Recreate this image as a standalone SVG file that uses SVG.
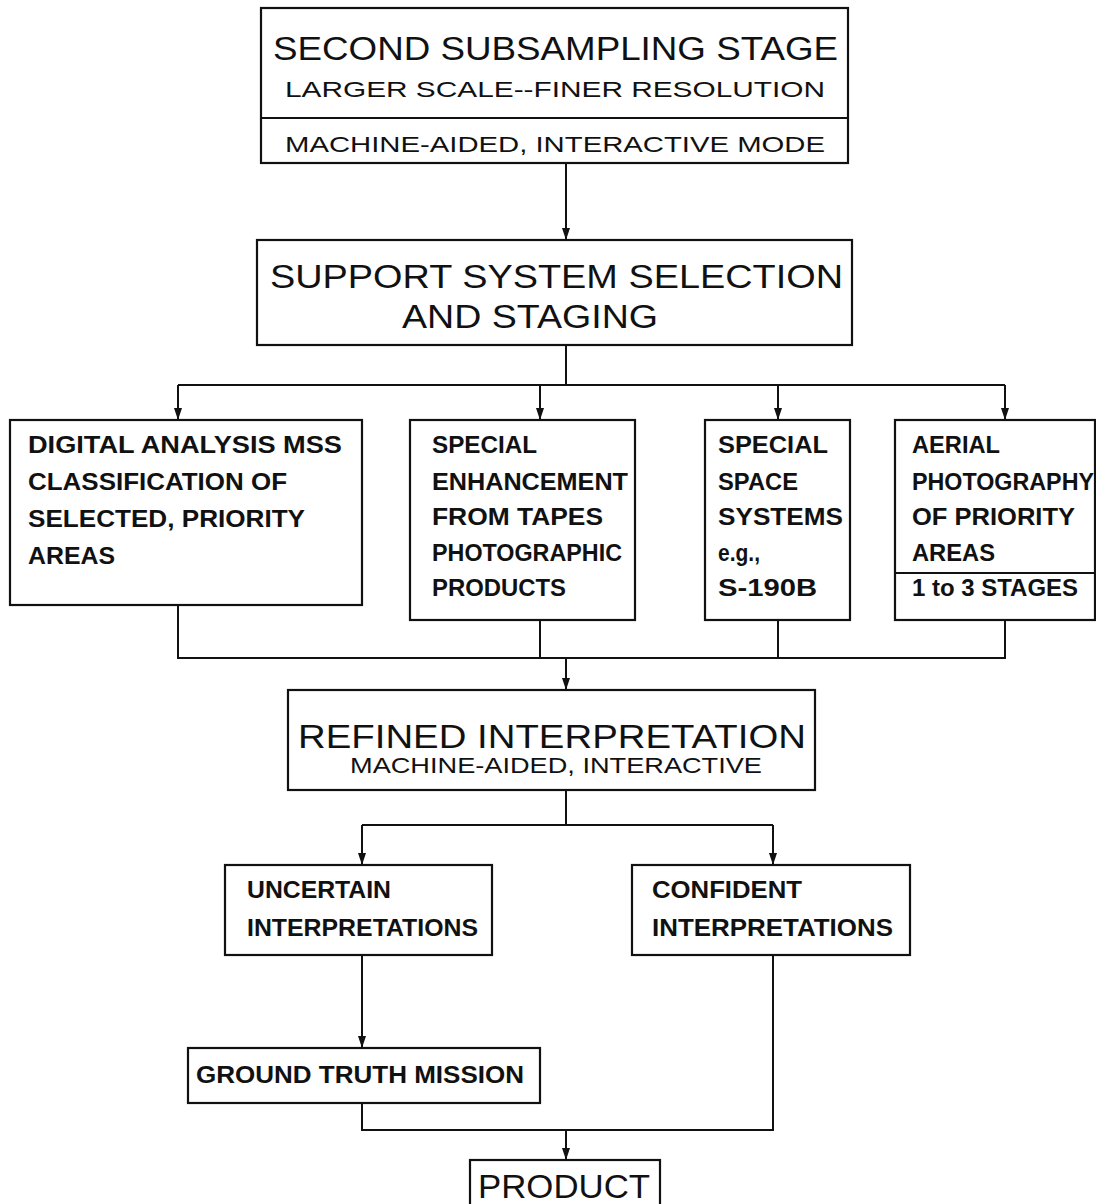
<svg xmlns="http://www.w3.org/2000/svg" width="1096" height="1204" viewBox="0 0 1096 1204">
<style>
.box{fill:#fff;stroke:#111;stroke-width:2.2}
.ln{fill:none;stroke:#111;stroke-width:2}
.t{font-family:"Liberation Sans",Arial,sans-serif;fill:#111;font-size:23px;font-weight:bold}
.h1{font-family:"Liberation Sans",Arial,sans-serif;fill:#111;font-size:34px}
.h2{font-family:"Liberation Sans",Arial,sans-serif;fill:#111;font-size:22px}
</style>
<defs>
<marker id="ar" viewBox="0 0 12 8" refX="12" refY="4" markerWidth="12" markerHeight="8" markerUnits="userSpaceOnUse" orient="auto">
<path d="M0,0 L12,4 L0,8 Z" fill="#111"/>
</marker>
</defs>
<rect width="1096" height="1204" fill="#fff"/>
<g id="connectors">
<path class="ln" d="M566,163 V240" marker-end="url(#ar)"/>
<path class="ln" d="M566,345 V385 M178,385 H1005"/>
<path class="ln" d="M178,385 V420" marker-end="url(#ar)"/>
<path class="ln" d="M540,385 V420" marker-end="url(#ar)"/>
<path class="ln" d="M778,385 V420" marker-end="url(#ar)"/>
<path class="ln" d="M1005,385 V420" marker-end="url(#ar)"/>
<path class="ln" d="M178,605 V658 H1005 V620 M540,620 V658 M778,620 V658"/>
<path class="ln" d="M566,658 V690" marker-end="url(#ar)"/>
<path class="ln" d="M566,790 V825 M362,825 H773"/>
<path class="ln" d="M362,825 V865" marker-end="url(#ar)"/>
<path class="ln" d="M773,825 V865" marker-end="url(#ar)"/>
<path class="ln" d="M362,955 V1048" marker-end="url(#ar)"/>
<path class="ln" d="M362,1103 V1130 H773 V955"/>
<path class="ln" d="M566,1130 V1160" marker-end="url(#ar)"/>
</g>
<g id="n-second">
<rect class="box" x="261" y="8" width="587" height="155"/>
<line class="ln" x1="261" y1="118" x2="848" y2="118"/>
<text class="h1" x="273" y="60" textLength="565" lengthAdjust="spacingAndGlyphs">SECOND SUBSAMPLING STAGE</text>
<text class="h2" x="285" y="97" textLength="540" lengthAdjust="spacingAndGlyphs">LARGER  SCALE--FINER RESOLUTION</text>
<text class="h2" x="285" y="152" textLength="540" lengthAdjust="spacingAndGlyphs">MACHINE-AIDED, INTERACTIVE MODE</text>
</g>
<g id="n-support">
<rect class="box" x="257" y="240" width="595" height="105"/>
<text class="h1" x="270" y="288" font-size="38" textLength="573" lengthAdjust="spacingAndGlyphs">SUPPORT SYSTEM SELECTION</text>
<text class="h1" x="402" y="328" font-size="38" textLength="256" lengthAdjust="spacingAndGlyphs">AND STAGING</text>
</g>
<g id="n-digital">
<rect class="box" x="10" y="420" width="352" height="185"/>
<text class="t" x="28" y="453" textLength="314" lengthAdjust="spacingAndGlyphs">DIGITAL ANALYSIS MSS</text>
<text class="t" x="28" y="490" textLength="259" lengthAdjust="spacingAndGlyphs">CLASSIFICATION OF</text>
<text class="t" x="28" y="527" textLength="277" lengthAdjust="spacingAndGlyphs">SELECTED, PRIORITY</text>
<text class="t" x="28" y="564" textLength="87" lengthAdjust="spacingAndGlyphs">AREAS</text>
</g>
<g id="n-enhance">
<rect class="box" x="410" y="420" width="225" height="200"/>
<text class="t" x="432" y="453" textLength="105" lengthAdjust="spacingAndGlyphs">SPECIAL</text>
<text class="t" x="432" y="490" textLength="196" lengthAdjust="spacingAndGlyphs">ENHANCEMENT</text>
<text class="t" x="432" y="525" textLength="171" lengthAdjust="spacingAndGlyphs">FROM TAPES</text>
<text class="t" x="432" y="561" textLength="190" lengthAdjust="spacingAndGlyphs">PHOTOGRAPHIC</text>
<text class="t" x="432" y="596" textLength="134" lengthAdjust="spacingAndGlyphs">PRODUCTS</text>
</g>
<g id="n-space">
<rect class="box" x="705" y="420" width="145" height="200"/>
<text class="t" x="718" y="453" textLength="110" lengthAdjust="spacingAndGlyphs">SPECIAL</text>
<text class="t" x="718" y="490" textLength="80" lengthAdjust="spacingAndGlyphs">SPACE</text>
<text class="t" x="718" y="525" textLength="125" lengthAdjust="spacingAndGlyphs">SYSTEMS</text>
<text class="t" x="718" y="561" textLength="42" lengthAdjust="spacingAndGlyphs">e.g.,</text>
<text class="t" x="718" y="596" textLength="99" lengthAdjust="spacingAndGlyphs">S-190B</text>
</g>
<g id="n-aerial">
<rect class="box" x="895" y="420" width="200" height="200"/>
<line class="ln" x1="895" y1="573" x2="1095" y2="573"/>
<text class="t" x="912" y="453" textLength="88" lengthAdjust="spacingAndGlyphs">AERIAL</text>
<text class="t" x="912" y="490" textLength="182" lengthAdjust="spacingAndGlyphs">PHOTOGRAPHY</text>
<text class="t" x="912" y="525" textLength="163" lengthAdjust="spacingAndGlyphs">OF PRIORITY</text>
<text class="t" x="912" y="561" textLength="83" lengthAdjust="spacingAndGlyphs">AREAS</text>
<text class="t" x="912" y="596" textLength="166" lengthAdjust="spacingAndGlyphs">1 to 3 STAGES</text>
</g>
<g id="n-refined">
<rect class="box" x="288" y="690" width="527" height="100"/>
<text class="h1" x="298" y="748" textLength="508" lengthAdjust="spacingAndGlyphs">REFINED INTERPRETATION</text>
<text class="h2" x="350" y="773" textLength="412" lengthAdjust="spacingAndGlyphs">MACHINE-AIDED, INTERACTIVE</text>
</g>
<g id="n-uncertain">
<rect class="box" x="225" y="865" width="267" height="90"/>
<text class="t" x="247" y="898" textLength="144" lengthAdjust="spacingAndGlyphs">UNCERTAIN</text>
<text class="t" x="247" y="936" textLength="231" lengthAdjust="spacingAndGlyphs">INTERPRETATIONS</text>
</g>
<g id="n-confident">
<rect class="box" x="632" y="865" width="278" height="90"/>
<text class="t" x="652" y="898" textLength="150" lengthAdjust="spacingAndGlyphs">CONFIDENT</text>
<text class="t" x="652" y="936" textLength="241" lengthAdjust="spacingAndGlyphs">INTERPRETATIONS</text>
</g>
<g id="n-ground">
<rect class="box" x="188" y="1048" width="352" height="55"/>
<text class="t" x="196" y="1083" textLength="328" lengthAdjust="spacingAndGlyphs">GROUND TRUTH MISSION</text>
</g>
<g id="n-product">
<rect class="box" x="470" y="1160" width="190" height="50"/>
<text class="h1" x="478" y="1198" textLength="172" lengthAdjust="spacingAndGlyphs">PRODUCT</text>
</g>
</svg>
